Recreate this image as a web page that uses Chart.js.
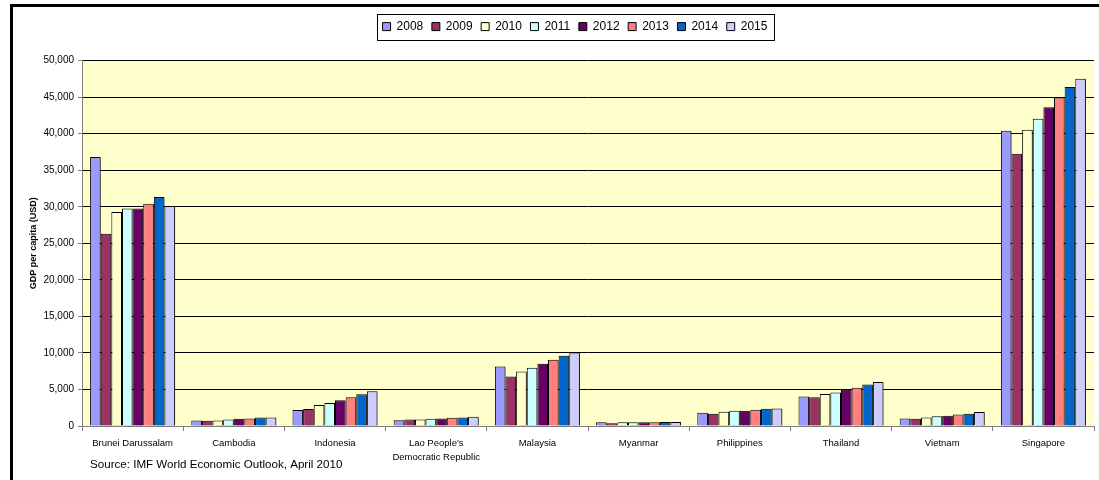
<!DOCTYPE html>
<html>
<head>
<meta charset="utf-8">
<script src="https://cdn.jsdelivr.net/npm/chart.js@4"></script>
<style>
  html, body { margin: 0; padding: 0; background: #fff; }
  #wrap { width: 1099px; height: 480px; position: relative; }
</style>
</head>
<body>
<div id="wrap"><canvas id="gdpChart" width="1099" height="480"></canvas></div>
<script>
    // data
    const countries = ['Brunei Darussalam', 'Cambodia', 'Indonesia', ["Lao People's", 'Democratic Republic'],
        'Malaysia', 'Myanmar', 'Philippines', 'Thailand', 'Vietnam', 'Singapore'];
    const years = ['2008', '2009', '2010', '2011', '2012', '2013', '2014', '2015'];
    const yTicks = [0, 5000, 10000, 15000, 20000, 25000, 30000, 35000, 40000, 45000, 50000];

    const gdp2008 = [36800, 740, 2190, 790, 8150, 500, 1820, 4050, 1010, 40400];
    const gdp2009 = [26300, 720, 2320, 900, 6790, 370, 1690, 3920, 1000, 37250];
    const gdp2010 = [29300, 760, 2870, 880, 7470, 500, 1960, 4370, 1180, 40530];
    const gdp2011 = [29750, 900, 3140, 1000, 7970, 510, 2090, 4600, 1320, 42030];
    const gdp2012 = [29750, 1000, 3510, 1010, 8510, 520, 2100, 4960, 1410, 43620];
    const gdp2013 = [30420, 1010, 3920, 1140, 9060, 530, 2230, 5240, 1590, 44950];
    const gdp2014 = [31330, 1170, 4330, 1150, 9600, 540, 2370, 5690, 1690, 46400];
    const gdp2015 = [30100, 1180, 4740, 1270, 10070, 550, 2380, 6010, 1910, 47500];

    const seriesValues = [gdp2008, gdp2009, gdp2010, gdp2011, gdp2012, gdp2013, gdp2014, gdp2015];
    const seriesColors = ['#9999FF', '#993366', '#FFFFCC', '#CCFFFF', '#660066', '#FF8080', '#0066CC', '#CCCCFF'];

    const FONT = 'Arial, "Liberation Sans", sans-serif';

    // frame, legend box, plot background, source note
    const decorations = {
        id: 'decorations',
        beforeInit(chart) {
            const origFit = chart.legend.fit;
            chart.legend.fit = function () {
                origFit.bind(chart.legend)();
                this.height += 18;
            };
        },
        afterLayout(chart) {
            // legend sits a bit right of the canvas centre
            chart.legend.left += 28;
            chart.legend.right += 28;
        },
        beforeDraw(chart) {
            const ctx = chart.ctx;
            const a = chart.chartArea;
            ctx.save();
            ctx.fillStyle = '#FFFFCC';
            ctx.fillRect(a.left, a.top, a.right - a.left, a.bottom - a.top);
            ctx.restore();
        },
        beforeDatasetsDraw(chart) {
            const ctx = chart.ctx;
            ctx.save();
            ctx.shadowColor = 'rgba(0,0,0,0.35)';
            ctx.shadowOffsetX = 2;
            ctx.shadowOffsetY = 1;
            ctx.shadowBlur = 0;
        },
        afterDatasetsDraw(chart) {
            chart.ctx.restore();
        },
        afterDraw(chart) {
            const ctx = chart.ctx;
            ctx.save();
            // outer frame (only left and top edges are visible)
            ctx.strokeStyle = '#000';
            ctx.lineWidth = 3;
            ctx.beginPath();
            ctx.moveTo(11.5, 480);
            ctx.lineTo(11.5, 5.5);
            ctx.lineTo(1099, 5.5);
            ctx.stroke();

            // legend border
            const boxes = chart.legend.legendHitBoxes;
            if (boxes && boxes.length) {
                const minX = Math.min(...boxes.map(b => b.left));
                const maxX = Math.max(...boxes.map(b => b.left + b.width));
                const minY = Math.min(...boxes.map(b => b.top));
                const maxY = Math.max(...boxes.map(b => b.top + b.height));
                const cy = (minY + maxY) / 2;
                ctx.lineWidth = 1;
                ctx.strokeRect(Math.round(minX - 6) + 0.5, Math.round(cy - 13) + 0.5,
                    Math.round(maxX - minX + 12), 26);
            }

            ctx.fillStyle = '#000';
            ctx.font = '11.6px ' + FONT;
            ctx.textBaseline = 'middle';
            ctx.fillText('Source: IMF World Economic Outlook, April 2010', 90, 465);
            ctx.restore();
        }
    };

    const ctx = document.getElementById('gdpChart').getContext('2d');
    new Chart(ctx, {
        type: 'bar',
        data: {
            labels: countries,
            datasets: years.map((yr, i) => ({
                label: yr,
                data: seriesValues[i],
                backgroundColor: seriesColors[i],
                borderColor: '#000',
                borderWidth: 1,
                categoryPercentage: 0.84,
                barPercentage: 1.0
            }))
        },
        options: {
            responsive: false,
            animation: false,
            layout: {
                padding: { top: 12, right: 5, bottom: 0, left: 0 }
            },
            plugins: {
                legend: {
                    display: true,
                    position: 'top',
                    labels: {
                        boxWidth: 8,
                        boxHeight: 8,
                        padding: 8.6,
                        color: '#000',
                        font: { family: FONT, size: 12 }
                    }
                },
                tooltip: { enabled: false }
            },
            scales: {
                x: {
                    afterFit: function (scale) { scale.height = 54; },
                    grid: {
                        offset: true,
                        drawOnChartArea: false,
                        drawTicks: true,
                        tickLength: 5,
                        color: '#808080'
                    },
                    border: { color: '#808080', width: 1 },
                    ticks: {
                        color: '#000',
                        padding: 6,
                        maxRotation: 0,
                        autoSkip: false,
                        font: { family: FONT, size: 9.5, lineHeight: 1.4 }
                    }
                },
                y: {
                    min: 0,
                    max: 50000,
                    afterFit: function (scale) { scale.width = 82; },
                    afterBuildTicks: function (scale) {
                        scale.ticks = yTicks.map(v => ({ value: v }));
                    },
                    grid: {
                        color: '#000',
                        lineWidth: 1,
                        tickLength: 4,
                        tickColor: '#808080'
                    },
                    border: { color: '#808080', width: 1 },
                    ticks: {
                        color: '#000',
                        padding: 4,
                        font: { family: FONT, size: 10 },
                        callback: function (value) {
                            return value.toLocaleString('en-US');
                        }
                    },
                    title: {
                        display: true,
                        text: 'GDP per capita (USD)',
                        color: '#000',
                        padding: { top: 28, bottom: 0 },
                        font: { family: FONT, size: 9, weight: 'bold' }
                    }
                }
            }
        },
        plugins: [decorations]
    });
</script>
</body>
</html>
